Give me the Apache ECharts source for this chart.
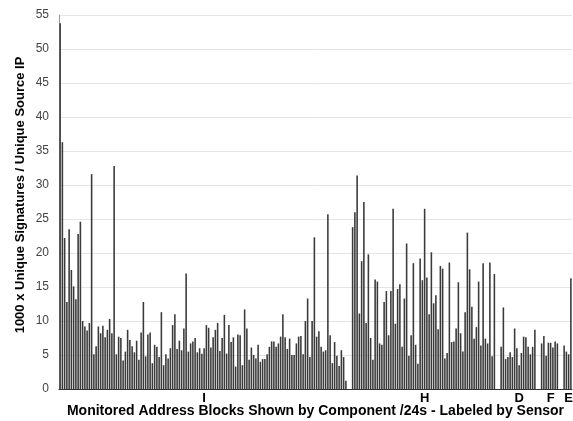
<!DOCTYPE html>
<html>
<head>
<meta charset="utf-8">
<script src="https://cdn.jsdelivr.net/npm/echarts@6/dist/echarts.min.js"></script>
<style>
  html, body { margin: 0; padding: 0; background: #fff; }
  #chart { width: 573px; height: 421px; }
</style>
</head>
<body>
<div id="chart"></div>
<script>
  // values per sensor group (left to right)
  const valuesI = [
    53.8, 36.3, 22.2, 12.8, 23.5, 17.5, 15.1, 13.2, 22.8, 24.6, 10.0, 9.2, 8.6, 9.7, 31.6, 5.1,
    6.3, 9.2, 8.2, 9.3, 7.6, 8.7, 10.3, 8.2, 32.8, 5.1, 7.7, 7.5, 4.2, 5.5, 8.7,
    7.2, 6.3, 5.4, 7.1, 4.3, 8.3, 12.8, 4.8, 8.0, 8.3, 3.8, 6.5, 6.2, 4.7, 11.3, 3.5,
    5.1, 4.5, 6.0, 9.4, 11.0, 5.9, 7.1, 5.7, 8.9, 17.0, 5.5,
    6.7, 7.0, 7.5, 5.4, 6.0, 5.2, 6.0, 9.4, 9.0, 6.1, 7.6, 8.7, 9.7, 5.6, 7.5, 10.9,
    5.2, 9.4, 6.9, 7.6, 3.3, 8.0, 7.9, 3.5, 11.7, 8.9, 4.3, 6.1, 5.0,
    4.5, 6.5, 4.0, 4.4, 4.4, 5.1, 6.2, 7.0, 7.0, 6.2, 6.7, 7.7, 11.0, 7.6, 5.9, 7.4,
    5.0, 5.0, 6.7, 7.7, 7.8, 5.1, 10.0, 13.3, 4.7, 10.0, 22.3, 7.7, 8.5,
    6.2, 5.5, 5.7, 25.7, 7.9, 3.8, 6.9, 4.9, 3.4, 5.7, 4.7, 1.2
  ]
  const valuesH = [
    23.8, 26.0, 31.4, 11.1, 18.8, 27.5, 9.7, 19.8, 7.5, 4.3, 16.1, 15.8, 6.7, 6.5, 12.8,
    14.4, 7.9, 14.4, 26.5, 9.6, 14.7, 15.4, 6.2, 13.3, 21.4, 4.9, 7.9, 18.5, 6.5, 3.7,
    19.2, 16.0, 26.5, 16.4, 11.0, 20.1, 12.6, 13.8, 8.8, 18.1, 17.7, 4.5, 5.3, 18.6,
    6.9, 7.0, 8.9, 15.7, 8.2, 5.5, 11.3, 23.0, 17.6, 12.1, 7.4, 9.1, 15.8, 6.4, 18.5,
    7.4, 6.7, 18.6, 4.8, 16.9
  ]
  const valuesD = [6.2, 12.0, 4.4, 4.7, 5.4, 4.7, 8.9, 6.0, 3.5, 5.3, 7.7, 7.6, 6.2, 5.1, 6.2, 8.7]
  const valuesF = [6.7, 7.8, 4.9, 6.8, 6.8, 6.1, 7.0, 6.7]
  const valuesE = [6.4, 5.5, 5.1, 16.3]

  const groupNames = ['I', 'H', 'D', 'F', 'E']
  const groupValues = [valuesI, valuesH, valuesD, valuesF, valuesE]
  const gapSlots = 2

  const categories = []
  const barData = []
  groupValues.forEach((vals, g) => {
    if (g > 0) {
      for (let k = 0; k < gapSlots; k++) {
        categories.push('')
        barData.push(null)
      }
    }
    const mid = Math.floor(vals.length / 2)
    vals.forEach((v, i) => {
      categories.push(i === mid ? groupNames[g] : '')
      barData.push(v)
    })
  })

  const font = 'Liberation Sans, Arial, sans-serif'
  const chart = echarts.init(document.getElementById('chart'))
  chart.setOption({
    animation: false,
    grid: { left: 59, right: 1, top: 15, bottom: 32, outerBoundsMode: 'none' },
    xAxis: {
      type: 'category',
      data: categories,
      name: 'Monitored Address Blocks Shown by Component /24s - Labeled by Sensor',
      nameLocation: 'center',
      nameGap: 15,
      nameMoveOverlap: false,
      nameTextStyle: { fontFamily: font, fontSize: 14, fontWeight: 'bold', color: '#000' },
      axisLine: { lineStyle: { color: '#333', width: 1 } },
      axisTick: { show: false },
      axisLabel: {
        interval: 0,
        margin: 3,
        fontFamily: font,
        fontSize: 13,
        fontWeight: 'bold',
        color: '#000',
      },
    },
    yAxis: {
      type: 'value',
      min: 0,
      max: 55,
      interval: 5,
      name: '1000 x Unique Signatures / Unique Source IP',
      nameLocation: 'center',
      nameGap: 32,
      nameMoveOverlap: false,
      nameTextStyle: {
        fontFamily: font,
        fontSize: 13,
        fontWeight: 'bold',
        color: '#000',
        padding: [0, 0, 0, 14],
      },
      axisLine: { show: true, lineStyle: { color: '#999' } },
      axisTick: { show: false },
      axisLabel: { fontFamily: font, fontSize: 12, color: '#444', margin: 10 },
      splitLine: { lineStyle: { color: '#e4e4e4' } },
    },
    series: [
      {
        type: 'bar',
        data: barData,
        barCategoryGap: '30%',
        itemStyle: { color: '#3a3a3a' },
      },
    ],
  })
</script>
</body>
</html>
